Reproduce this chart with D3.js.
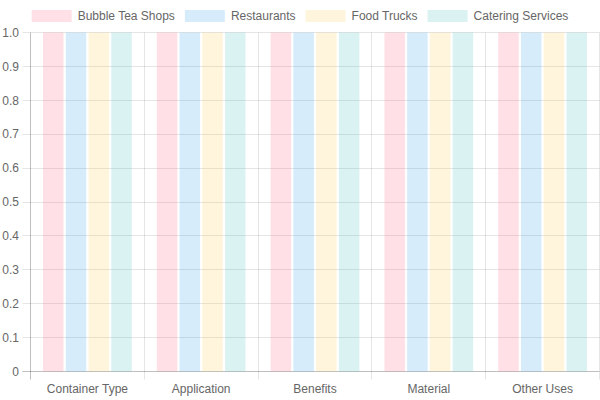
<!DOCTYPE html>
<html>
<head>
<meta charset="utf-8">
<script src="https://cdn.jsdelivr.net/npm/d3@7/dist/d3.min.js"></script>
<style>
  body { margin: 0; background: #fff; }
  svg { display: block; font-family: "Liberation Sans", Arial, sans-serif; }
</style>
</head>
<body>
<svg id="chart" width="600" height="400"></svg>
<script>
var categories = ["Container Type", "Application", "Benefits", "Material", "Other Uses"];
var seriesNames = ["Bubble Tea Shops", "Restaurants", "Food Trucks", "Catering Services"];
var bubbleTea = [1, 1, 1, 1, 1];
var restaurants = [1, 1, 1, 1, 1];
var foodTrucks = [1, 1, 1, 1, 1];
var catering = [1, 1, 1, 1, 1];
var yTicks = [0, 0.1, 0.2, 0.3, 0.4, 0.5, 0.6, 0.7, 0.8, 0.9, 1.0];

var seriesValues = [bubbleTea, restaurants, foodTrucks, catering];
var fills = ["rgba(255,99,132,0.2)", "rgba(54,162,235,0.2)", "rgba(255,206,86,0.2)", "rgba(75,192,192,0.2)"];
var grid = "rgba(0,0,0,0.1)";

var svg = d3.select("#chart");
var plotLeft = 30.5, plotRight = 599.5, plotTop = 32.5, plotBottom = 371.5;

var xScale = d3.scaleBand().domain(categories).range([plotLeft, plotRight]);
var yScale = d3.scaleLinear().domain([0, 1]).range([plotBottom, plotTop]);

// category percent 0.8, bar percent 0.9
var groupW = xScale.bandwidth() * 0.8;
var slotW = groupW / seriesNames.length;
var barW = slotW * 0.9;

// horizontal grid
svg.append("g").selectAll("line").data(yTicks).enter().append("line")
  .attr("x1", plotLeft - 8).attr("x2", plotRight)
  .attr("y1", function (d) { return Math.round(yScale(d) - 0.5) + 0.5; })
  .attr("y2", function (d) { return Math.round(yScale(d) - 0.5) + 0.5; })
  .attr("stroke", function (d) { return d === 0 ? "rgba(0,0,0,0.25)" : grid; });

// vertical grid at category boundaries
var bounds = categories.map(function (c) { return xScale(c); }).concat([plotRight]);
svg.append("g").selectAll("line").data(bounds).enter().append("line")
  .attr("x1", function (d) { return Math.round(d - 0.5) + 0.5; })
  .attr("x2", function (d) { return Math.round(d - 0.5) + 0.5; })
  .attr("y1", plotTop).attr("y2", plotBottom + 8)
  .attr("stroke", function (d, i) { return i === 0 ? "rgba(0,0,0,0.25)" : grid; });

// bars
seriesValues.forEach(function (vals, si) {
  svg.append("g").selectAll("rect").data(vals).enter().append("rect")
    .attr("x", function (d, i) {
      return xScale(categories[i]) + xScale.bandwidth() * 0.1 + slotW * si + (slotW - barW) / 2;
    })
    .attr("width", barW)
    .attr("y", function (d) { return yScale(d); })
    .attr("height", function (d) { return yScale(0) - yScale(d); })
    .attr("fill", fills[si]);
});

// y tick labels
svg.append("g").selectAll("text").data(yTicks).enter().append("text")
  .attr("x", 19)
  .attr("y", function (d) { return yScale(d); })
  .attr("dy", "0.35em")
  .attr("text-anchor", "end")
  .attr("fill", "#666")
  .style("font-size", "12px")
  .text(function (d) { return d === 0 ? "0" : d.toFixed(1); });

// x labels
svg.append("g").selectAll("text").data(categories).enter().append("text")
  .attr("x", function (d) { return xScale(d) + xScale.bandwidth() / 2; })
  .attr("y", 389)
  .attr("dy", "0.35em")
  .attr("text-anchor", "middle")
  .attr("fill", "#666")
  .style("font-size", "12px")
  .text(function (d) { return d; });

// legend
var legend = svg.append("g");
var widths = [];
var tmp = svg.append("text").style("font-size", "12px");
seriesNames.forEach(function (n) { tmp.text(n); widths.push(tmp.node().getComputedTextLength()); });
tmp.remove();
var itemW = widths.map(function (w) { return 40 + 6 + w; });
var total = d3.sum(itemW) + 10 * (itemW.length - 1);
var lx = (600 - total) / 2;
seriesNames.forEach(function (n, i) {
  var g = legend.append("g").attr("transform", "translate(" + lx + ",10)");
  g.append("rect").attr("width", 40).attr("height", 12).attr("fill", fills[i]);
  g.append("text").attr("x", 46).attr("y", 6).attr("dy", "0.35em")
    .attr("fill", "#666").style("font-size", "12px").text(n);
  lx += itemW[i] + 10;
});
</script>
</body>
</html>
